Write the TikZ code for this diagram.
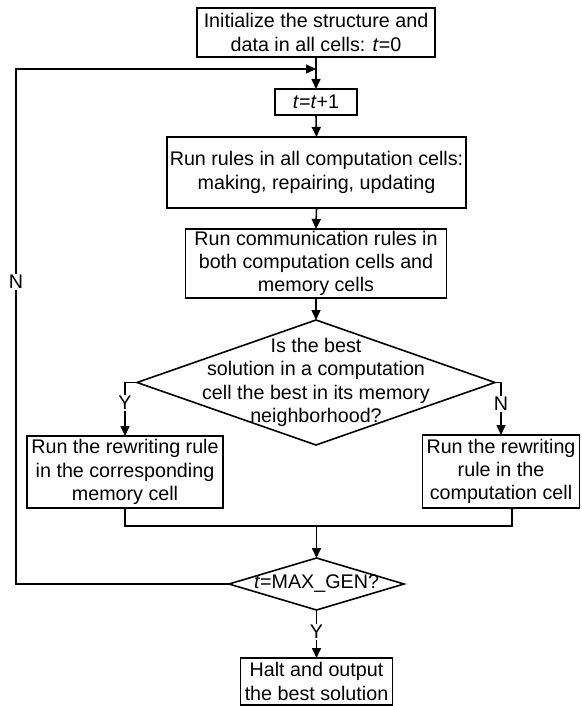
\documentclass[tikz,border=0pt]{standalone}
\usepackage{fontspec}
\setmainfont{Liberation Sans}
\usetikzlibrary{arrows.meta,shapes.geometric,calc}
\tikzset{
  box/.style={draw, line width=1.6pt, inner sep=0pt, outer sep=0pt, align=center},
  dia/.style={draw, diamond, line width=1.6pt, inner sep=0pt, outer sep=0pt},
  txt/.style={inner sep=0pt, align=center},
  lab/.style={fill=white, inner sep=1pt},
  arr/.style={line width=1.6pt, -{Triangle[length=10pt,width=9pt]}},
  ln/.style={line width=1.6pt},
}
\begin{document}
\begin{tikzpicture}[x=1pt,y=-1pt,font=\fontsize{19.7}{23.3}\selectfont]
\useasboundingbox (0,0) rectangle (581,706);
% boxes
\node[box, minimum width=238pt, minimum height=49pt] (b1) at (316,32.5)
  {Initialize the structure and\\data in all cells: \textit{t}=0};
\node[box, minimum width=82pt, minimum height=26pt] (b2) at (316,102)
  {\textit{t}=\textit{t}+1};
\node[box, minimum width=299pt, minimum height=71pt] (b3) at (316.5,172.5)
  {Run rules in all computation cells:\\making, repairing, updating};
\node[box, minimum width=261pt, minimum height=69pt] (b4) at (316,263.5)
  {Run communication rules in\\both computation cells and\\memory cells};
\node[dia, minimum width=358pt, minimum height=125pt] (d1) at (316,382.5) {};
\node[txt] (d1t) at (316,382.5)
  {Is the best\\solution in a computation\\cell the best in its memory\\neighborhood?};
\node[box, minimum width=196pt, minimum height=72pt] (b5) at (125,472)
  {Run the rewriting rule\\in the corresponding\\memory cell};
\node[box, minimum width=157pt, minimum height=73pt] (b6) at (501,471.5)
  {Run the rewriting\\rule in the\\computation cell};
\node[dia, minimum width=175pt, minimum height=52pt] (d2) at (316.5,584) {};
\node[txt] (d2t) at (316.5,584) {\textit{t}=MAX\_GEN?};
\node[box, minimum width=152pt, minimum height=47pt] (b7) at (316.5,681.5)
  {Halt and output\\the best solution};
% coordinates
\coordinate (lt) at (16,69);
\coordinate (lj) at (316,69);
\coordinate (mj) at (316.5,526);
\coordinate (r6) at (512,507.9);
% connectors
\draw[arr] (b1.south) -- (b2.north);
\draw[arr] (b2.south) -- (b3.north);
\draw[arr] (b3.south) -- (b4.north);
\draw[arr] (b4.south) -- (d1.north);
\draw[arr] (d1.west) -| (b5.north);
\draw[arr] (d1.east) -| (b6.north);
\draw[ln] (b5.south) |- (mj);
\draw[ln] (r6) |- (mj);
\draw[arr] (mj) -- (d2.north);
\draw[arr] (d2.south) -- (b7.north);
\draw[arr] (d2.west) -| (lt) -- (lj);
% labels
\node[lab] (ly1) at (125,403) {Y};
\node[lab] (ln1) at (501,404) {N};
\node[lab] (ly2) at (316.5,632) {Y};
\node[lab] (ln2) at (16,282) {N};
\end{tikzpicture}
\end{document}
